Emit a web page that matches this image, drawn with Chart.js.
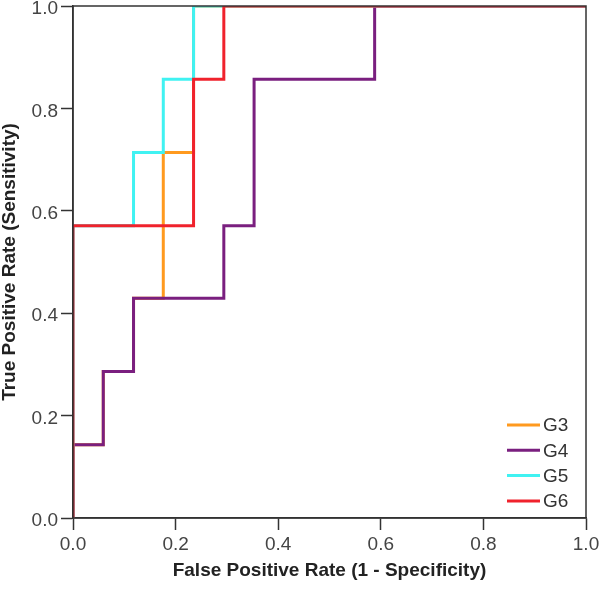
<!DOCTYPE html>
<html>
<head>
<meta charset="utf-8">
<script src="https://cdn.jsdelivr.net/npm/chart.js@4.4.1/dist/chart.umd.min.js"></script>
<style>
  html, body { margin: 0; padding: 0; background: #fff; }
</style>
</head>
<body>
<canvas id="roc" width="600" height="590"></canvas>
<script>
// ROC operating points (FPR, TPR) for each group
const seriesNames = ["G3", "G4", "G5", "G6"];
const seriesColors = ["#FF9A1F", "#7A1F7F", "#40F2F2", "#F0222C"];

const fprG3 = [0, 0, 0.059, 0.059, 0.118, 0.118, 0.176, 0.176, 0.235, 0.235, 1];
const tprG3 = [0, 0.143, 0.143, 0.286, 0.286, 0.429, 0.429, 0.714, 0.714, 1, 1];

const fprG4 = [0, 0, 0.059, 0.059, 0.118, 0.118, 0.294, 0.294, 0.353, 0.353, 0.588, 0.588, 1];
const tprG4 = [0, 0.143, 0.143, 0.286, 0.286, 0.429, 0.429, 0.571, 0.571, 0.857, 0.857, 1, 1];

const fprG5 = [0, 0, 0.118, 0.118, 0.176, 0.176, 0.235, 0.235, 1];
const tprG5 = [0, 0.571, 0.571, 0.714, 0.714, 0.857, 0.857, 1, 1];

const fprG6 = [0, 0, 0.235, 0.235, 0.294, 0.294, 1];
const tprG6 = [0, 0.571, 0.571, 0.857, 0.857, 1, 1];

const xTicks = [0, 0.2, 0.4, 0.6, 0.8, 1.0];
const yTicks = [0, 0.2, 0.4, 0.6, 0.8, 1.0];

const fprs = [fprG3, fprG4, fprG5, fprG6];
const tprs = [tprG3, tprG4, tprG5, tprG6];

const toPoints = (xs, ys) => xs.map((x, i) => ({ x: x, y: ys[i] }));

// plot frame on all four sides
const framePlugin = {
  id: "frame",
  afterDatasetsDraw(chart) {
    const { ctx, chartArea: a } = chart;
    ctx.save();
    ctx.strokeStyle = "#333";
    ctx.lineWidth = 1.5;
    ctx.strokeRect(a.left, a.top, a.right - a.left, a.bottom - a.top);
    ctx.restore();
  },
};

// legend sits inside the plot, bottom right
const insideLegend = {
  id: "insideLegend",
  afterDraw(chart) {
    const { ctx, chartArea: a } = chart;
    ctx.save();
    ctx.font = "19px 'Liberation Sans', Arial, sans-serif";
    ctx.textBaseline = "middle";
    ctx.fillStyle = "#333";
    chart.data.datasets.forEach((ds, i) => {
      const y = a.bottom - 93 + i * 25.3;
      ctx.strokeStyle = ds.borderColor;
      ctx.lineWidth = 3;
      ctx.beginPath();
      ctx.moveTo(a.right - 79, y);
      ctx.lineTo(a.right - 46, y);
      ctx.stroke();
      ctx.fillText(ds.label, a.right - 43, y + 1);
    });
    ctx.restore();
  },
};

new Chart(document.getElementById("roc"), {
  type: "line",
  data: {
    datasets: seriesNames.map((name, i) => ({
      label: name,
      data: toPoints(fprs[i], tprs[i]),
      borderColor: seriesColors[i],
      backgroundColor: seriesColors[i],
      borderWidth: 3,
      pointRadius: 0,
      tension: 0,
      fill: false,
      order: seriesNames.length - 1 - i,
    })),
  },
  options: {
    responsive: false,
    animation: false,
    layout: { padding: { top: 6, right: 14, left: 0, bottom: 0 } },
    plugins: {
      legend: { display: false },
      tooltip: { enabled: false },
    },
    scales: {
      x: {
        type: "linear",
        min: 0,
        max: 1,
        afterFit(scale) {
          scale.height = 72;
          scale.paddingLeft = 0;
          scale.paddingRight = 0;
        },
        afterBuildTicks(scale) { scale.ticks = xTicks.map(v => ({ value: v })); },
        grid: { drawOnChartArea: false, tickLength: 12, tickColor: "#333", tickWidth: 1.5 },
        border: { color: "#333", width: 1.5 },
        ticks: {
          padding: 3,
          color: "#444",
          font: { family: "'Liberation Sans', Arial, sans-serif", size: 19 },
          callback: v => Number(v).toFixed(1),
        },
        title: {
          display: true,
          text: "False Positive Rate (1 - Specificity)",
          color: "#222",
          padding: { top: 0, bottom: 10 },
          font: { family: "'Liberation Sans', Arial, sans-serif", size: 19, weight: "bold", lineHeight: 1 },
        },
      },
      y: {
        type: "linear",
        min: 0,
        max: 1,
        afterFit(scale) {
          scale.width = 73;
          scale.paddingTop = 0;
          scale.paddingBottom = 0;
        },
        afterBuildTicks(scale) { scale.ticks = yTicks.map(v => ({ value: v })); },
        grid: { drawOnChartArea: false, tickLength: 12, tickColor: "#333", tickWidth: 1.5 },
        border: { color: "#333", width: 1.5 },
        ticks: {
          padding: 3,
          labelOffset: 3,
          color: "#444",
          font: { family: "'Liberation Sans', Arial, sans-serif", size: 19 },
          callback: v => Number(v).toFixed(1),
        },
        title: {
          display: true,
          text: "True Positive Rate (Sensitivity)",
          color: "#222",
          padding: { top: 0, bottom: 0 },
          font: { family: "'Liberation Sans', Arial, sans-serif", size: 19, weight: "bold", lineHeight: 1 },
        },
      },
    },
  },
  plugins: [framePlugin, insideLegend],
});
</script>
</body>
</html>
